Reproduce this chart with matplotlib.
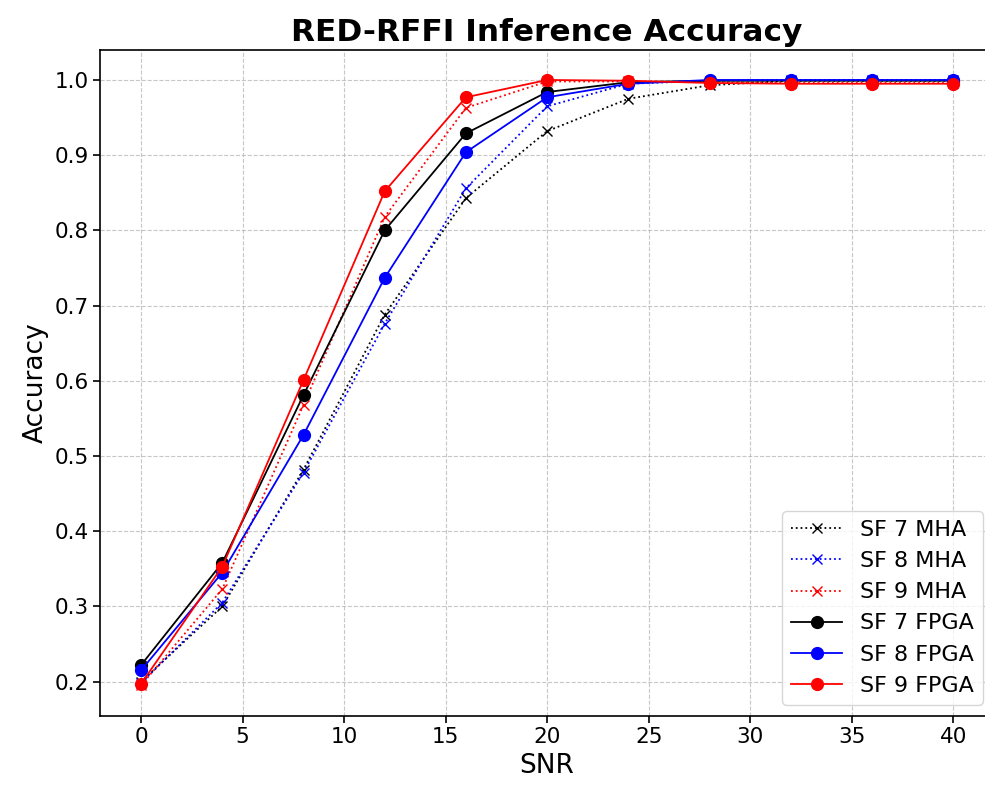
import numpy as np
import matplotlib
matplotlib.use('Agg')
import matplotlib.pyplot as plt

snr = [0, 4, 8, 12, 16, 20, 24, 28, 32, 36, 40]

# MHA accuracy
sf7_mha = [0.200, 0.300, 0.482, 0.688, 0.843, 0.932, 0.975, 0.993, 0.999, 0.999, 0.999]
sf8_mha = [0.198, 0.305, 0.478, 0.676, 0.856, 0.965, 0.995, 0.999, 1.000, 1.000, 1.000]
sf9_mha = [0.195, 0.323, 0.568, 0.818, 0.963, 0.998, 0.998, 0.997, 0.996, 0.996, 0.996]

# FPGA accuracy
sf7_fpga = [0.222, 0.358, 0.581, 0.800, 0.929, 0.984, 0.997, 0.999, 0.999, 0.999, 0.999]
sf8_fpga = [0.215, 0.345, 0.528, 0.737, 0.904, 0.977, 0.995, 1.000, 1.000, 1.000, 1.000]
sf9_fpga = [0.197, 0.353, 0.601, 0.852, 0.977, 1.000, 0.999, 0.996, 0.995, 0.995, 0.995]

fig, ax = plt.subplots(figsize=(9.85, 7.89), dpi=100)

lw = 1.3
ax.plot(snr, sf7_mha, 'k:x', label='SF 7 MHA', markersize=7.5, lw=lw)
ax.plot(snr, sf8_mha, 'b:x', label='SF 8 MHA', markersize=7.5, lw=lw)
ax.plot(snr, sf9_mha, 'r:x', label='SF 9 MHA', markersize=7.5, lw=lw)
ax.plot(snr, sf7_fpga, 'k-o', label='SF 7 FPGA', markersize=8.5, lw=lw)
ax.plot(snr, sf8_fpga, 'b-o', label='SF 8 FPGA', markersize=8.5, lw=lw)
ax.plot(snr, sf9_fpga, 'r-o', label='SF 9 FPGA', markersize=8.5, lw=lw)

ax.set_title('RED-RFFI Inference Accuracy', fontsize=22.5, fontweight='bold')
ax.set_xlabel('SNR', fontsize=19)
ax.set_ylabel('Accuracy', fontsize=19)
ax.tick_params(labelsize=15.5, width=1.2, length=5)
for s in ax.spines.values():
    s.set_linewidth(1.2)
ax.grid(True, linestyle='--', alpha=0.7)
ax.legend(loc='lower right', fontsize=16, handlelength=2.3)

# right spine sits just past the image edge in the reference
plt.subplots_adjust(left=0.102, right=1.009, top=0.937, bottom=0.093)
plt.savefig('out.png', dpi=100)
